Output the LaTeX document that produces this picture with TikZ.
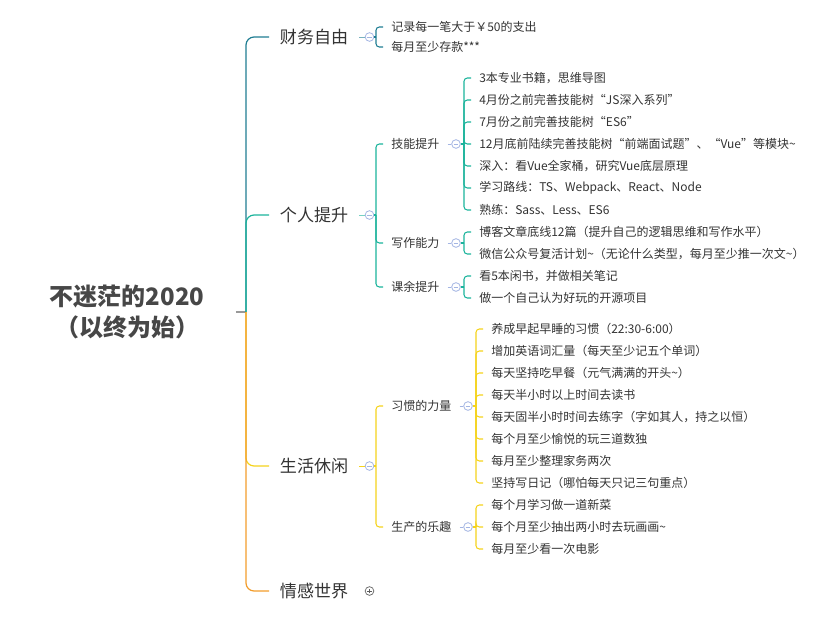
\documentclass[tikz,border=0pt]{standalone}
\usepackage{fontspec}
\setmainfont{Noto Sans CJK SC}
\usepackage{tikz}
\usetikzlibrary{positioning, calc}
\usepackage{xcolor}

\definecolor{finblue}{HTML}{1E7D92}
\definecolor{selfteal}{HTML}{1AB39B}
\definecolor{lifeyel}{HTML}{F5D31C}
\definecolor{loveorg}{HTML}{F29C2B}
\definecolor{foldblue}{HTML}{A3B5E3}
\definecolor{txtgrey}{HTML}{333333}

\begin{document}
\begin{tikzpicture}[
    x=0.75pt, y=-0.75pt,
    rootnode/.style={align=center, font=\fontsize{18}{23}\bfseries\selectfont,
                     text=txtgrey!90, minimum width=163pt, inner sep=0pt},
    topic/.style={anchor=west, inner xsep=8pt, inner ysep=2pt,
                  font=\fontsize{12.8}{15}\selectfont, text=txtgrey},
    subtopic/.style={anchor=west, inner xsep=6pt, inner ysep=1pt,
                     font=\fontsize{9}{11}\selectfont, text=txtgrey},
    leaf/.style={anchor=west, inner xsep=6pt, inner ysep=1pt,
                 font=\fontsize{9}{11}\selectfont, text=txtgrey},
    fold/.style={circle, draw=foldblue, fill=white, line width=0.6pt,
                 minimum size=6.5pt, inner sep=0pt,
                 path picture={\draw[foldblue, line width=0.6pt]
                   ([xshift=-1.8pt]path picture bounding box.center) --
                   ([xshift=1.8pt]path picture bounding box.center);}},
    unfold/.style={fold, draw=txtgrey!70,
                   path picture={\draw[txtgrey!80, line width=0.6pt]
                   ([xshift=-1.8pt]path picture bounding box.center) --
                   ([xshift=1.8pt]path picture bounding box.center)
                   ([yshift=-1.8pt]path picture bounding box.center) --
                   ([yshift=1.8pt]path picture bounding box.center);}},
    link/.style={line width=0.9pt, rounded corners=6pt},
    bracket/.style={line width=0.8pt, rounded corners=2.5pt}
]
\useasboundingbox (0,0) rectangle (835,625);

% root
\node[rootnode] (root) at (127,312) {不迷茫的2020\\（以终为始）};
\coordinate (hub) at (246,312);
\draw[gray!80, line width=0.8pt] (root.east) -- (hub);

% main topics
\node[topic] (fin)  at (269,37)  {财务自由};
\node[topic] (self) at (269,215) {个人提升};
\node[topic] (life) at (269,466) {生活休闲};
\node[topic] (love) at (269,591) {情感世界};

\node[fold]   (ffin)  at (369.5,37)  {};
\node[fold]   (fself) at (369.5,215) {};
\node[fold]   (flife) at (369.5,466) {};
\node[unfold] (flove) at (369.5,591) {};

\draw[link, finblue]  (hub) |- (fin.west);
\draw[link, selfteal] (hub) |- (self.west);
\draw[link, lifeyel]  (hub) |- (life.west);
\draw[link, loveorg]  (hub) |- (love.west);

\draw[finblue!60, line width=0.6pt]  (fin.east)  -- (ffin);
\draw[selfteal!60, line width=0.6pt] (self.east) -- (fself);
\draw[lifeyel, line width=0.6pt]     (life.east) -- (flife);

% 财务自由
\node[leaf] (m1) at (383,27) {记录每一笔大于￥50的支出};
\node[leaf] (m2) at (383,47) {每月至少存款***};
\coordinate (jfin) at (376,37);
\draw[finblue, line width=0.8pt] (ffin) -- (jfin);
\foreach \i in {1,2}
  \draw[bracket, finblue] (jfin) |- (m\i.west);

% 个人提升
\node[subtopic] (skill) at (383,144) {技能提升};
\node[subtopic] (write) at (383,243) {写作能力};
\node[subtopic] (extra) at (383,287) {课余提升};
\node[fold] (fskill) at (456,144) {};
\node[fold] (fwrite) at (456,243) {};
\node[fold] (fextra) at (456,287) {};
\coordinate (jself) at (376,215);
\draw[selfteal, line width=0.8pt] (fself) -- (jself);
\foreach \n in {skill, write, extra} {
  \draw[bracket, selfteal] (jself) |- (\n.west);
  \draw[foldblue, line width=0.6pt] (\n.east) -- (f\n);
}

\foreach \t [count=\i] in {{3本专业书籍，思维导图},
    {4月份之前完善技能树“JS深入系列”},
    {7月份之前完善技能树“ES6”},
    {12月底前陆续完善技能树“前端面试题”、“Vue”等模块\textasciitilde},
    {深入：看Vue全家桶，研究Vue底层原理},
    {学习路线：TS、Webpack、React、Node},
    {熟练：Sass、Less、ES6}}
  \node[leaf] (s\i) at (471,56+22*\i) {\t};
\coordinate (jskill) at (464,144);
\draw[selfteal, line width=0.8pt] (fskill) -- (jskill);
\foreach \i in {1,...,7}
  \draw[bracket, selfteal] (jskill) |- (s\i.west);

\node[leaf] (w1) at (471,232) {博客文章底线12篇（提升自己的逻辑思维和写作水平）};
\node[leaf] (w2) at (471,254) {微信公众号复活计划\textasciitilde（无论什么类型，每月至少推一次文\textasciitilde）};
\coordinate (jwrite) at (464,243);
\draw[selfteal, line width=0.8pt] (fwrite) -- (jwrite);
\foreach \i in {1,2}
  \draw[bracket, selfteal] (jwrite) |- (w\i.west);

\node[leaf] (e1) at (471,276) {看5本闲书，并做相关笔记};
\node[leaf] (e2) at (471,298) {做一个自己认为好玩的开源项目};
\coordinate (jextra) at (464,287);
\draw[selfteal, line width=0.8pt] (fextra) -- (jextra);
\foreach \i in {1,2}
  \draw[bracket, selfteal] (jextra) |- (e\i.west);

% 生活休闲
\node[subtopic] (habit) at (383,406) {习惯的力量};
\node[subtopic] (joy)   at (383,527) {生产的乐趣};
\node[fold] (fhabit) at (468,406) {};
\node[fold] (fjoy)   at (468,527) {};
\coordinate (jlife) at (376,466);
\draw[lifeyel, line width=0.8pt] (flife) -- (jlife);
\foreach \n in {habit, joy} {
  \draw[bracket, lifeyel] (jlife) |- (\n.west);
  \draw[foldblue, line width=0.6pt] (\n.east) -- (f\n);
}

\foreach \t [count=\i] in {{养成早起早睡的习惯（22:30-6:00）},
    {增加英语词汇量（每天至少记五个单词）},
    {每天坚持吃早餐（元气满满的开头\textasciitilde）},
    {每天半小时以上时间去读书},
    {每天固半小时时间去练字（字如其人，持之以恒）},
    {每个月至少愉悦的玩三道数独},
    {每月至少整理家务两次},
    {坚持写日记（哪怕每天只记三句重点）}}
  \node[leaf] (h\i) at (483,307+22*\i) {\t};
\coordinate (jhabit) at (476,406);
\draw[lifeyel, line width=0.8pt] (fhabit) -- (jhabit);
\foreach \i in {1,...,8}
  \draw[bracket, lifeyel] (jhabit) |- (h\i.west);

\foreach \t [count=\i] in {{每个月学习做一道新菜},
    {每个月至少抽出两小时去玩画画\textasciitilde},
    {每月至少看一次电影}}
  \node[leaf] (p\i) at (483,483+22*\i) {\t};
\coordinate (jjoy) at (476,527);
\draw[lifeyel, line width=0.8pt] (fjoy) -- (jjoy);
\foreach \i in {1,2,3}
  \draw[bracket, lifeyel] (jjoy) |- (p\i.west);
\end{tikzpicture}
\end{document}
